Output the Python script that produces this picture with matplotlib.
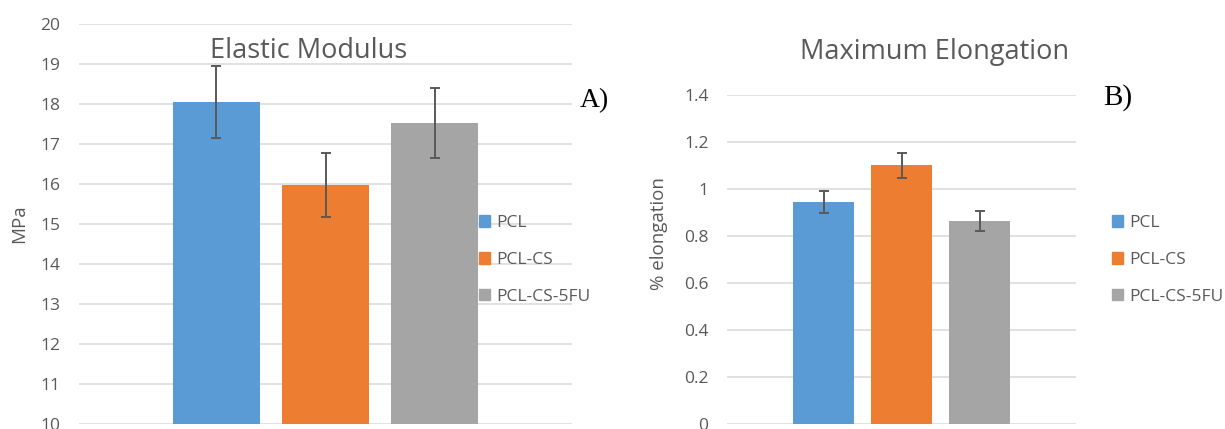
import matplotlib
matplotlib.use("Agg")
import matplotlib.pyplot as plt
from matplotlib.patches import Patch

# Дані
samples = ["PCL", "PCL-CS", "PCL-CS-5FU"]
colors = ["#5b9bd5", "#ed7d31", "#a5a5a5"]

modulus = [18.05, 15.98, 17.53]
modulus_err = [0.90, 0.80, 0.87]

elongation = [0.946, 1.101, 0.863]
elongation_err = [0.047, 0.055, 0.043]

W, H = 1225, 429
txt = "#595959"
plt.rcParams['font.family'] = ['Open Sans', 'DejaVu Sans']

fig = plt.figure(figsize=(W / 100, H / 100), dpi=100)


def px_axes(x0, x1, ytop, ybot):
    return fig.add_axes([x0 / W, (H - ybot) / H, (x1 - x0) / W, (ybot - ytop) / H])


def style(ax, ticks):
    ax.set_yticks(ticks)
    ax.grid(axis='y', color='#d9d9d9', linewidth=1.1)
    ax.set_axisbelow(True)
    for s in ax.spines.values():
        s.set_visible(False)
    ax.set_xticks([])
    ax.tick_params(axis='y', length=0, pad=13.5, labelsize=12.5, labelcolor=txt)
    ax.set_xlim(-1.26, 3.26)


def draw(ax, values, errs, width):
    x = list(range(len(samples)))
    ax.bar(x, values, width=width, color=colors, zorder=2)
    ax.errorbar(x, values, yerr=errs, fmt='none', ecolor=txt,
                elinewidth=1.4, capsize=3.7, capthick=1.4, zorder=3)


def legend(ax, xpx):
    handles = [Patch(color=c, label=s) for c, s in zip(colors, samples)]
    leg = ax.legend(handles=handles, loc='center left',
                    bbox_to_anchor=(xpx / W, (H - 260) / H),
                    bbox_transform=fig.transFigure, frameon=False,
                    borderpad=0, borderaxespad=0, handlelength=0.63,
                    handleheight=0.63, handletextpad=0.35, labelspacing=1.2,
                    fontsize=12.5)
    for t in leg.get_texts():
        t.set_color(txt)


# A) Модуль пружності
ax1 = px_axes(79, 572, 24, 424)
ax1.set_ylim(10, 20)
style(ax1, range(10, 21))
draw(ax1, modulus, modulus_err, 0.798)
legend(ax1, 479)
fig.text(19 / W, (H - 224) / H, "MPa", rotation=90, ha='center', va='center',
         fontsize=13.5, color=txt)
fig.text(309 / W, (H - 58.5) / H, "Elastic Modulus", ha='center', va='baseline',
         fontsize=19.5, color=txt)
fig.text(580 / W, (H - 106.7) / H, "A)", ha='left', va='baseline',
         fontsize=20, family='Liberation Serif', color='black')

# B) Максимальне видовження
ax2 = px_axes(727.3, 1076, 95.3, 423.7)
ax2.set_ylim(0, 1.4)
style(ax2, [0, 0.2, 0.4, 0.6, 0.8, 1.0, 1.2, 1.4])
ax2.set_xlim(-1.235, 3.235)
ax2.set_yticklabels(["0", "0.2", "0.4", "0.6", "0.8", "1", "1.2", "1.4"])
draw(ax2, elongation, elongation_err, 0.78)
legend(ax2, 1112.3)
fig.text(658.8 / W, (H - 233.5) / H, "% elongation", rotation=90, ha='center',
         va='center', fontsize=13.5, color=txt)
fig.text(934.8 / W, (H - 59) / H, "Maximum Elongation", ha='center', va='baseline',
         fontsize=19.5, color=txt)
fig.text(1103.3 / W, (H - 105) / H, "B)", ha='left', va='baseline',
         fontsize=21, family='Liberation Serif', color='black')

fig.savefig("out.png", dpi=100)
